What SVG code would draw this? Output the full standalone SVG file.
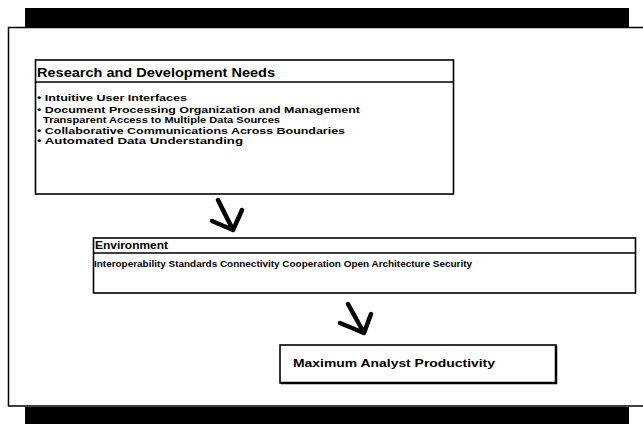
<svg xmlns="http://www.w3.org/2000/svg" width="643" height="424" viewBox="0 0 643 424">
<style>
.bar{fill:#000}
.frame{fill:none;stroke:#000;stroke-width:1.5}
.box{fill:#fff;stroke:#000;stroke-width:1.6}
.sep{stroke:#000;stroke-width:1.6}
.t{font-family:"Liberation Sans",Arial,sans-serif;font-weight:bold;fill:#000}
.arrow{fill:none;stroke:#000;stroke-width:4.5;stroke-linecap:round;stroke-linejoin:round}
</style>
<rect width="643" height="424" fill="#fff"/>
<rect class="bar" x="25" y="8" width="604" height="19"/>
<rect class="bar" x="25" y="407" width="604" height="17"/>
<path class="frame" d="M643,27.5 H8.5 V406 H643"/>
<g id="rd">
<rect class="box" x="35.5" y="60" width="418" height="134"/>
<line class="sep" x1="35.5" y1="82" x2="453.5" y2="82"/>
<text class="t" x="37" y="77" font-size="12.5" textLength="238" lengthAdjust="spacingAndGlyphs">Research and Development Needs</text>
<text class="t" x="37" y="101" font-size="9" textLength="150" lengthAdjust="spacingAndGlyphs">• Intuitive User Interfaces</text>
<text class="t" x="37" y="113" font-size="9" textLength="323" lengthAdjust="spacingAndGlyphs">• Document Processing  Organization and Management</text>
<text class="t" x="43" y="123" font-size="9" textLength="237" lengthAdjust="spacingAndGlyphs">Transparent Access to Multiple Data Sources</text>
<text class="t" x="37" y="134" font-size="9" textLength="308" lengthAdjust="spacingAndGlyphs">• Collaborative Communications Across Boundaries</text>
<text class="t" x="37" y="144" font-size="9" textLength="206" lengthAdjust="spacingAndGlyphs">• Automated Data Understanding</text>
</g>
<g id="env">
<rect class="box" x="93.5" y="238" width="542" height="55"/>
<line class="sep" x1="93.5" y1="253" x2="635.5" y2="253"/>
<text class="t" x="95" y="249" font-size="10.5" textLength="73" lengthAdjust="spacingAndGlyphs">Environment</text>
<text class="t" x="94" y="267" font-size="9" textLength="378" lengthAdjust="spacingAndGlyphs">Interoperability Standards Connectivity Cooperation Open Architecture Security</text>
</g>
<g id="max">
<rect class="box" x="280" y="345" width="276" height="38" stroke-width="2"/>
<path d="M281,383 H556 V346" fill="none" stroke="#000" stroke-width="2.5"/>
<text class="t" x="293" y="367" font-size="11" textLength="202" lengthAdjust="spacingAndGlyphs">Maximum Analyst Productivity</text>
</g>
<g id="connectors">
<path class="arrow" d="M218,200 L233,230 M212,221 L233,230 L242,210"/>
<path class="arrow" d="M348,304 L364,333 M340,323 L364,333 L371,314"/>
</g>
</svg>
